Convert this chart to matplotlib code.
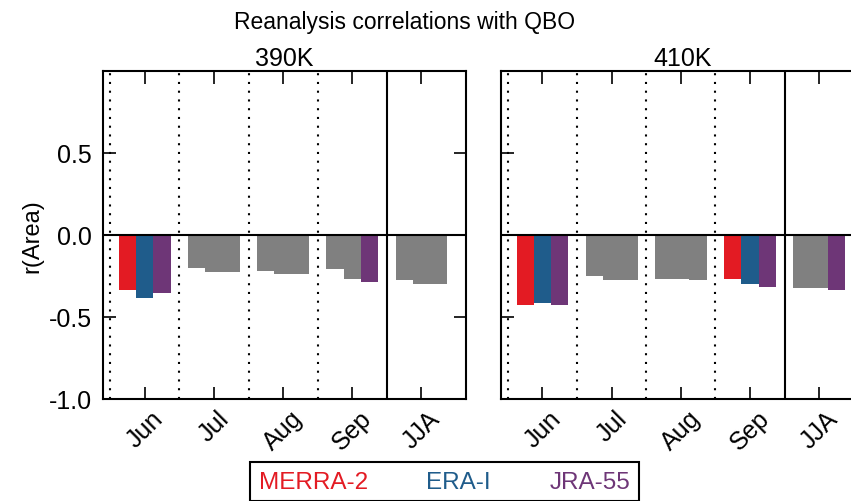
import numpy as np
import matplotlib.pyplot as plt
from matplotlib.patches import Patch

plt.rcParams.update({
    "font.family": ["Liberation Sans", "DejaVu Sans"],
    "font.size": 18,
    "axes.linewidth": 1.5,
    "xtick.direction": "in",
    "ytick.direction": "in",
    "xtick.major.width": 1.2,
    "ytick.major.width": 1.2,
    "axes.unicode_minus": False,
})

# ---------------- data ----------------
months = ["Jun", "Jul", "Aug", "Sep", "JJA"]
datasets = ["MERRA-2", "ERA-I", "JRA-55"]
colors = ["#E31B23", "#1F5C8B", "#6E3677"]
gray = "#808080"

# correlations at 390K
merra_390 = [-0.336, -0.200, -0.220, -0.209, -0.277]
era_390 = [-0.385, -0.229, -0.239, -0.270, -0.300]
jra_390 = [-0.357, -0.229, -0.239, -0.286, -0.300]
# significance flags at 390K (1 = coloured, 0 = grey)
merra_390_sig = [1, 0, 0, 0, 0]
era_390_sig = [1, 0, 0, 0, 0]
jra_390_sig = [1, 0, 0, 1, 0]

# correlations at 410K
merra_410 = [-0.428, -0.251, -0.270, -0.270, -0.326]
era_410 = [-0.418, -0.277, -0.270, -0.300, -0.326]
jra_410 = [-0.428, -0.277, -0.277, -0.320, -0.336]
merra_410_sig = [1, 0, 0, 1, 0]
era_410_sig = [1, 0, 0, 1, 0]
jra_410_sig = [1, 0, 0, 1, 1]

panels = [
    ("390K", [merra_390, era_390, jra_390], [merra_390_sig, era_390_sig, jra_390_sig]),
    ("410K", [merra_410, era_410, jra_410], [merra_410_sig, era_410_sig, jra_410_sig]),
]

# ---------------- figure ----------------
W, H = 851, 502
fig = plt.figure(figsize=(W / 100, H / 100), dpi=100)

ax_w = 362.4 / W
ax_h = 328.3 / H
ax_b = (H - 400) / H
lefts = [103.3 / W, 501 / W]

x = np.arange(len(months))
width = 0.25
offsets = [-0.25, 0.0, 0.25]

for i, (title, series, sigs) in enumerate(panels):
    ax = fig.add_axes([lefts[i], ax_b, ax_w, ax_h])
    for vals, sig, off, col in zip(series, sigs, offsets, colors):
        bar_cols = [col if s else gray for s in sig]
        ax.bar(x + off, vals, width, color=bar_cols, linewidth=0, zorder=2)

    ax.axhline(0, color="black", linewidth=1.5, zorder=3)
    for xv in [-0.5, 0.5, 1.5, 2.5]:
        ax.axvline(xv, color="black", linewidth=1.5,
                   linestyle=(0, (1, 3.2)), zorder=1)
    ax.axvline(3.5, color="black", linewidth=1.5, zorder=3)

    ax.set_xlim(-0.6, 4.64)
    ax.set_ylim(-1.0, 1.0)
    ax.set_yticks([-1.0, -0.5, 0.0, 0.5])
    ax.set_xticks(x)
    ax.set_xticklabels(months, rotation=45, ha="center")
    ax.tick_params(axis="both", top=True, right=True, length=9)
    ax.tick_params(axis="x", pad=5)
    ax.tick_params(axis="y", pad=8)
    ax.set_title(title, fontsize=18, pad=4)
    if i == 0:
        ax.set_yticklabels(["-1.0", "-0.5", "0.0", "0.5"])
        ax.set_ylabel("r(Area)", fontsize=17, labelpad=4)
    else:
        ax.set_yticklabels([])

fig.text(405 / W, 1 - 23 / H, "Reanalysis correlations with QBO",
         fontsize=16.5, ha="center", va="center")

handles = [Patch(visible=False) for _ in datasets]
leg = fig.legend(
    handles, datasets,
    loc="upper center",
    bbox_to_anchor=(444.5 / W, 1 - 463 / H),
    borderaxespad=0,
    ncol=3,
    handlelength=0, handletextpad=0,
    columnspacing=2.4,
    labelcolor=colors,
    fancybox=False,
    edgecolor="black",
    framealpha=1,
    borderpad=0.35,
    fontsize=17.5,
)
leg.get_frame().set_linewidth(1.5)

fig.savefig("out.png", dpi=100)
